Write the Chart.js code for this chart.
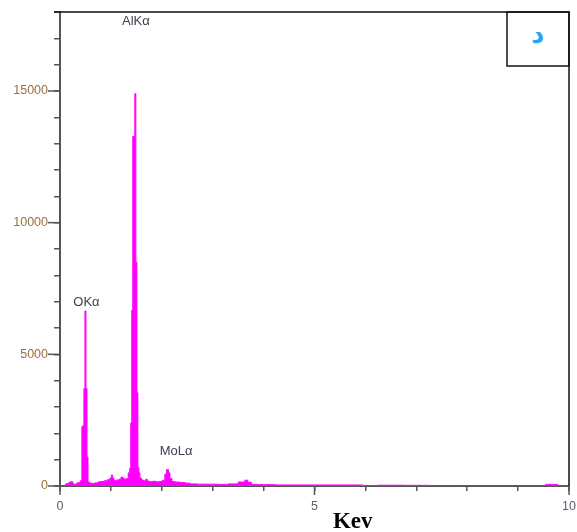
<!DOCTYPE html>
<html>
<head>
<meta charset="UTF-8">
<title>EDS spectrum</title>
<script src="https://cdn.jsdelivr.net/npm/chart.js@4/dist/chart.umd.min.js"></script>
<style>
  html, body { margin: 0; padding: 0; background: #fff; overflow: hidden; }
  #wrap { width: 577px; height: 532px; }
  canvas { display: block; }
</style>
</head>
<body>
<div id="wrap"><canvas id="chart" width="577" height="532"></canvas></div>
<script>
// energy (keV) and counts
const kev = [
  0.00, 0.10, 0.12, 0.16, 0.20, 0.22, 0.24, 0.26, 0.30, 0.34, 0.38,
  0.42, 0.44, 0.46, 0.48, 0.50, 0.52, 0.54, 0.56, 0.60, 0.66, 0.72,
  0.78, 0.84, 0.90, 0.96, 1.00, 1.02, 1.04, 1.08, 1.14, 1.18, 1.22,
  1.24, 1.28, 1.32, 1.36, 1.38, 1.40, 1.42, 1.44, 1.46, 1.48, 1.50,
  1.52, 1.54, 1.56, 1.58, 1.62, 1.66, 1.70, 1.74, 1.80, 1.86, 1.92,
  1.98, 2.04, 2.08, 2.10, 2.12, 2.14, 2.18, 2.22, 2.30, 2.40, 2.50,
  2.60, 2.80, 3.00, 3.20, 3.40, 3.60, 3.66, 3.72, 3.80, 4.00, 4.50,
  5.00, 5.50, 5.90, 6.00, 6.50, 7.00, 7.50, 8.00, 9.50, 9.58, 9.76,
  9.80, 10.00
];
const counts = [
  0, 0, 80, 100, 140, 170, 160, 90, 50, 110, 130,
  200, 2250, 2300, 3700, 6650, 3700, 1100, 150, 110, 100, 120,
  160, 170, 200, 240, 300, 420, 300, 200, 230, 260, 340,
  300, 260, 280, 500, 680, 2390, 6680, 13280, 13280, 14900, 8500,
  3540, 700, 500, 300, 230, 200, 250, 180, 170, 180, 160,
  170, 220, 450, 620, 630, 500, 280, 170, 150, 130, 110,
  80, 70, 70, 60, 80, 150, 220, 140, 60, 50, 40,
  40, 40, 40, 20, 30, 25, 10, 0, 0, 60, 60,
  0, 0
];

const yMajor = [0, 5000, 10000, 15000];
const xMajor = [0, 5, 10];

// peak labels: text, energy, counts
const peakNames = ['AlKα', 'OKα', 'MoLα'];
const peakKev = [1.49, 0.52, 2.28];
const peakCounts = [17640, 6990, 1300];

const tickFont = { family: '"Liberation Sans", Arial, sans-serif', size: 12.5 };

const points = kev.map((k, i) => ({ x: k, y: counts[i] }));

const decor = {
  id: 'decor',
  afterDraw(chart) {
    const { ctx, chartArea: a, scales: { x, y } } = chart;
    ctx.save();
    // frame top and right
    ctx.strokeStyle = '#111';
    ctx.lineWidth = 1.5;
    ctx.beginPath();
    ctx.moveTo(a.left - 6, a.top);
    ctx.lineTo(a.right, a.top);
    ctx.lineTo(a.right, a.bottom);
    ctx.stroke();
    // small box top right
    ctx.strokeRect(a.right - 62, a.top, 62, 54);
    ctx.fillStyle = '#2aa4f4';
    ctx.font = 'bold 26px "DejaVu Sans", sans-serif';
    ctx.textAlign = 'center';
    ctx.textBaseline = 'middle';
    ctx.fillText('د', a.right - 31, a.top + 24);

    // longer major ticks
    ctx.strokeStyle = '#555';
    ctx.lineWidth = 1.5;
    yMajor.forEach(v => {
      const py = y.getPixelForValue(v);
      ctx.beginPath();
      ctx.moveTo(a.left - 12, py);
      ctx.lineTo(a.left, py);
      ctx.stroke();
    });
    xMajor.forEach(v => {
      const px = x.getPixelForValue(v);
      ctx.beginPath();
      ctx.moveTo(px, a.bottom);
      ctx.lineTo(px, a.bottom + 9);
      ctx.stroke();
    });

    // peak labels
    ctx.fillStyle = '#3a4250';
    ctx.font = '13px "Liberation Sans", Arial, sans-serif';
    peakNames.forEach((t, i) => {
      ctx.fillText(t, x.getPixelForValue(peakKev[i]), y.getPixelForValue(peakCounts[i]));
    });

    // axis title
    ctx.fillStyle = '#000';
    ctx.font = 'bold 23px "Liberation Serif", "Times New Roman", serif';
    ctx.textBaseline = 'alphabetic';
    ctx.fillText('Kev', x.getPixelForValue(5.75), a.bottom + 42);
    ctx.restore();
  }
};

new Chart(document.getElementById('chart'), {
  type: 'line',
  data: {
    datasets: [{
      data: points,
      borderColor: '#ff00ff',
      backgroundColor: '#ff00ff',
      borderWidth: 1,
      fill: 'origin',
      pointRadius: 0,
      stepped: 'middle'
    }]
  },
  options: {
    responsive: false,
    animation: false,
    layout: { padding: { top: 12, right: 8, left: 0, bottom: 0 } },
    plugins: { legend: { display: false }, tooltip: { enabled: false } },
    scales: {
      x: {
        type: 'linear',
        min: 0,
        max: 10,
        afterFit(s) { s.height = 46; s.paddingLeft = 0; s.paddingRight = 0; },
        border: { display: true, color: '#555', width: 2 },
        grid: { drawOnChartArea: false, color: '#555', tickLength: 5, lineWidth: 1.5 },
        ticks: {
          stepSize: 1,
          padding: 8,
          maxRotation: 0,
          autoSkip: false,
          color: '#55606e',
          font: tickFont,
          callback: v => (xMajor.includes(v) ? String(v) : '')
        }
      },
      y: {
        min: 0,
        max: 18000,
        afterFit(s) { s.width = 60; s.paddingTop = 0; s.paddingBottom = 0; },
        border: { display: true, color: '#555', width: 2 },
        grid: { drawOnChartArea: false, color: '#555', tickLength: 6, lineWidth: 1.5 },
        ticks: {
          stepSize: 1000,
          padding: 6,
          autoSkip: false,
          color: '#9a7040',
          font: tickFont,
          callback: v => (yMajor.includes(v) ? String(v) : '')
        }
      }
    }
  },
  plugins: [decor]
});
</script>
</body>
</html>
